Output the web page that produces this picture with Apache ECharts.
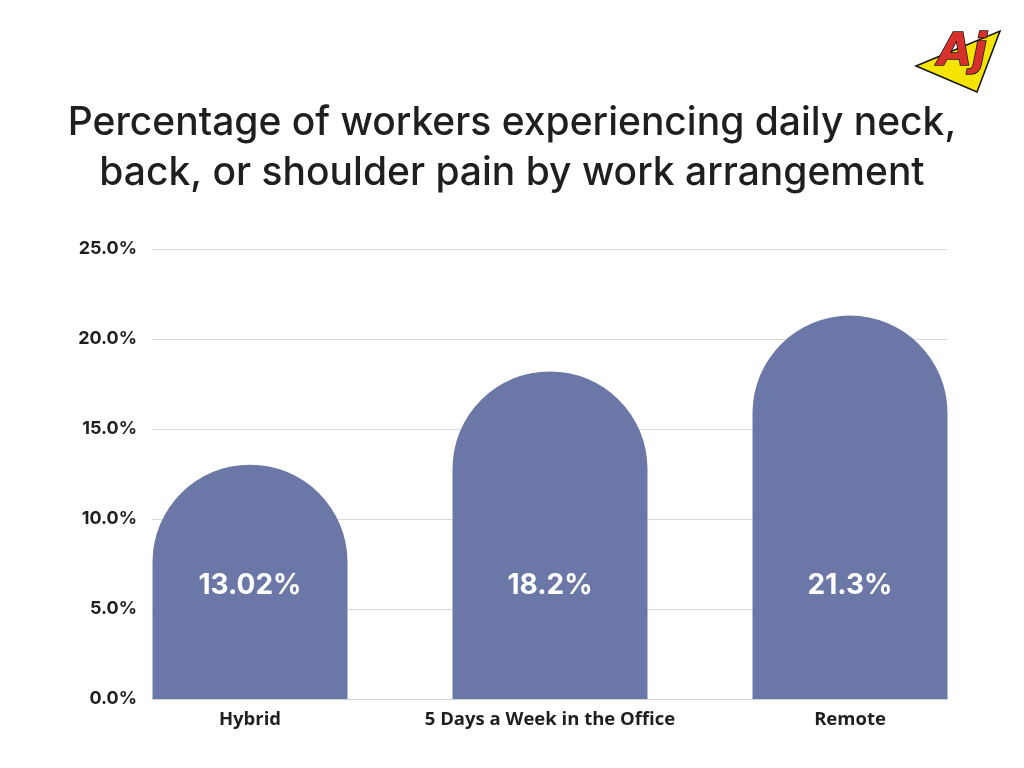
<!DOCTYPE html>
<html><head><meta charset="utf-8">
<script src="https://cdn.jsdelivr.net/npm/echarts@6/dist/echarts.min.js"></script>
<style>html,body{margin:0;padding:0;background:#fff}#c{width:1024px;height:768px}</style>
</head><body><div id="c"></div>
<script>
const categories = ['Hybrid', '5 Days a Week in the Office', 'Remote'];
const values = [13.02, 18.2, 21.3];
const valueLabels = ['13.02%', '18.2%', '21.3%'];
const yTicks = [0, 5, 10, 15, 20, 25];

const chart = echarts.init(document.getElementById('c'));
const barColor = '#6b78a7';
chart.setOption({
  backgroundColor: '#ffffff',
  animation: false,
  title: {
    text: 'Percentage of workers experiencing daily neck,\nback, or shoulder pain by work arrangement',
    left: 'center', top: 93,
    textStyle: { fontFamily: 'Inter', fontSize: 39, fontWeight: 500, color: '#1f1f1f', lineHeight: 50 }
  },
  grid: [
    { left: 152, right: 77, top: 249, bottom: 69 },
    { left: 100, right: 24, top: 249, bottom: 69 }
  ],
  xAxis: [
    { gridIndex: 0, type: 'value', min: 0, max: 1, show: true,
      axisLine: { show: true, lineStyle: { color: '#cfcfcf', width: 1 } },
      axisLabel: { show: false }, axisTick: { show: false }, splitLine: { show: false } },
    { gridIndex: 1, type: 'category', data: categories,
      axisLine: { show: false }, axisTick: { show: false },
      axisLabel: { interval: 0, hideOverlap: false, margin: 11, fontFamily: 'Open Sans', fontWeight: 'bold', fontSize: 18.5, color: '#1f1f1f' } }
  ],
  yAxis: [
    { gridIndex: 0, type: 'value', min: 0, max: 25, interval: 5,
      axisLine: { show: false }, axisTick: { show: false },
      splitLine: { show: true, lineStyle: { color: '#d9d9d9', width: 1 } },
      axisLabel: { margin: 15, fontFamily: 'Inter', fontWeight: 'bold', fontSize: 18, color: '#1f1f1f',
        formatter: v => v.toFixed(1) + '%' } },
    { gridIndex: 1, type: 'value', min: 0, max: 25, interval: 5, show: false }
  ],
  series: [{
    type: 'bar', xAxisIndex: 1, yAxisIndex: 1,
    data: values, barWidth: 195,
    itemStyle: { color: barColor, borderRadius: [97.5, 97.5, 0, 0] },
    label: { show: true, position: 'insideBottom', distance: 99,
      formatter: p => valueLabels[p.dataIndex],
      fontFamily: 'Inter', fontWeight: 'bold', fontSize: 28, color: '#ffffff' }
  }],
  graphic: [
    { type: 'polygon', shape: { points: [[916, 66], [1000, 31], [977, 92]] },
      style: { fill: '#f5e400', stroke: '#111', lineWidth: 1.5 } },
    { type: 'text', x: 938, y: 32, style: { text: 'Aj', font: 'italic bold 44px "DejaVu Sans"',
      fill: '#d8312b', stroke: '#111', lineWidth: 1.5 } }
  ]
});
</script></body></html>
